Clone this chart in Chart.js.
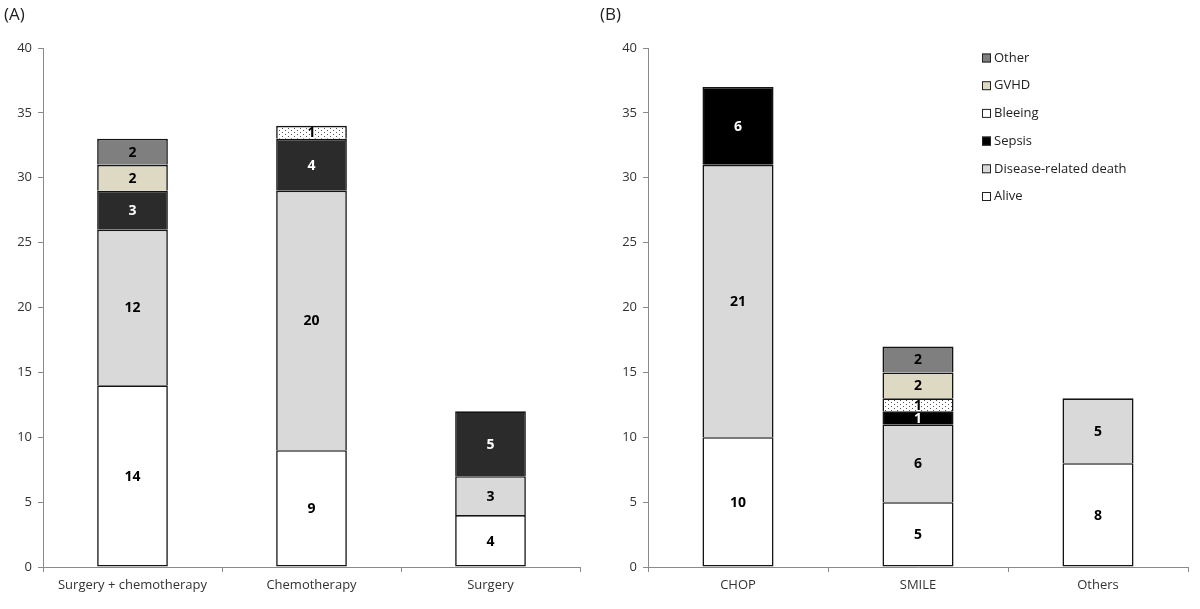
<!DOCTYPE html>
<html><head><meta charset="utf-8">
<script src="https://cdn.jsdelivr.net/npm/chart.js@4/dist/chart.umd.min.js"></script>
<style>
html,body{margin:0;padding:0;background:#fff;}
#wrap{position:relative;width:1200px;height:609px;}
.pane{position:absolute;top:0;width:600px;height:609px;}
.lab{position:absolute;top:2px;font:17px "Open Sans",sans-serif;color:#222;}
</style>
</head><body>
<div id="wrap">
  <div class="pane" style="left:0"><canvas id="cA" width="600" height="609"></canvas></div>
  <div class="pane" style="left:600px"><canvas id="cB" width="600" height="609"></canvas></div>
  <div class="lab" style="left:4px">(A)</div>
  <div class="lab" style="left:600px">(B)</div>
</div>
<script>
const seriesNames = ["Alive","Disease-related death","Sepsis","Bleeing","GVHD","Other"];

const catsA = ["Surgery + chemotherapy","Chemotherapy","Surgery"];
const aliveA   = [14, 9, 4];
const diseaseA = [12, 20, 3];
const sepsisA  = [3, 4, 5];
const bleedA   = [0, 1, 0];
const gvhdA    = [2, 0, 0];
const otherA   = [2, 0, 0];

const catsB = ["CHOP","SMILE","Others"];
const aliveB   = [10, 5, 8];
const diseaseB = [21, 6, 5];
const sepsisB  = [6, 1, 0];
const bleedB   = [0, 1, 0];
const gvhdB    = [0, 2, 0];
const otherB   = [0, 2, 0];

const yTicks = [0,5,10,15,20,25,30,35,40];

function dotPattern(){
  const c = document.createElement('canvas');
  c.width = 6; c.height = 4;
  const g = c.getContext('2d');
  g.fillStyle = '#fff'; g.fillRect(0,0,6,4);
  g.fillStyle = '#555';
  g.fillRect(0,0,1,1);
  g.fillRect(3,2,1,1);
  return g.createPattern(c,'repeat');
}
const pat = dotPattern();

function makeDatasets(vals, sepsisColor){
  const fills = ['#ffffff','#d9d9d9',sepsisColor,pat,'#ddd9c3','#7f7f7f'];
  const txt = ['#000','#000','#fff','#000','#000','#000'];
  return vals.map((v,i)=>({
    label: seriesNames[i],
    data: v,
    backgroundColor: fills[i],
    borderColor: '#141414',
    borderWidth: (c)=> (c.raw ? 1.6 : 0),
    borderSkipped: i === 0 ? false : 'start',
    textColor: txt[i],
    legendColor: i===3 ? '#ffffff' : fills[i]
  }));
}

const valueLabels = {
  id:'valueLabels',
  afterDatasetsDraw(chart){
    const ctx = chart.ctx;
    ctx.save();
    ctx.font = 'bold 14px "Open Sans", sans-serif';
    ctx.textAlign = 'center';
    ctx.textBaseline = 'middle';
    chart.data.datasets.forEach((ds,di)=>{
      const meta = chart.getDatasetMeta(di);
      meta.data.forEach((bar,i)=>{
        const v = ds.data[i];
        if(!v) return;
        ctx.fillStyle = ds.textColor;
        ctx.fillText(String(v), bar.x, (bar.y+bar.base)/2 + 1);
      });
    });
    ctx.restore();
  }
};

const customLegend = {
  id:'customLegend',
  afterDraw(chart, args, opts){
    if(!opts.show) return;
    const ctx = chart.ctx;
    ctx.save();
    ctx.font = '13px "Open Sans", sans-serif';
    ctx.textBaseline = 'middle';
    ctx.textAlign = 'left';
    const ds = chart.data.datasets.slice().reverse();
    ds.forEach((d,i)=>{
      const y = opts.y + i*27.7;
      ctx.fillStyle = d.legendColor;
      ctx.fillRect(opts.x, y-4.5, 9, 9);
      ctx.strokeStyle = '#222';
      ctx.lineWidth = 1;
      ctx.strokeRect(opts.x+0.5, y-4, 8, 8);
      ctx.fillStyle = '#222';
      ctx.fillText(d.label, opts.x+12, y);
    });
    ctx.restore();
  }
};

function makeChart(id, cats, vals, sepsisColor, yWidth, padRight, legend){
  return new Chart(document.getElementById(id), {
    type:'bar',
    data:{ labels: cats, datasets: makeDatasets(vals, sepsisColor) },
    options:{
      responsive:false,
      animation:false,
      layout:{ padding:{ top:48, right:padRight, left:0, bottom:0 } },
      datasets:{ bar:{ categoryPercentage:1, barPercentage:0.395 } },
      plugins:{ legend:{display:false}, tooltip:{enabled:false},
        customLegend: legend },
      scales:{
        x:{
          stacked:true,
          grid:{ display:true, drawOnChartArea:false, drawTicks:true, tickLength:5, color:'#8a8a8a', offset:true },
          border:{ display:true, color:'#8a8a8a', width:1 },
          ticks:{ color:'#333', font:{ size:13, family:'"Open Sans", sans-serif' }, padding:5, maxRotation:0 },
          afterFit(s){ s.height = 42; }
        },
        y:{
          stacked:true, min:0, max:40,
          afterBuildTicks(s){ s.ticks = yTicks.map(v=>({value:v})); },
          grid:{ display:true, drawOnChartArea:false, drawTicks:true, tickLength:5, color:'#8a8a8a' },
          border:{ display:true, color:'#8a8a8a', width:1 },
          ticks:{ color:'#333', font:{ size:13, family:'"Open Sans", sans-serif' }, padding:6 },
          afterFit(s){ s.width = yWidth; }
        }
      }
    },
    plugins:[valueLabels, customLegend]
  });
}

makeChart('cA', catsA, [aliveA,diseaseA,sepsisA,bleedA,gvhdA,otherA], '#2b2b2b', 43, 20, {show:false});
makeChart('cB', catsB, [aliveB,diseaseB,sepsisB,bleedB,gvhdB,otherB], '#000000', 48, 12, {show:true, x:382, y:58});
</script>
</body></html>
